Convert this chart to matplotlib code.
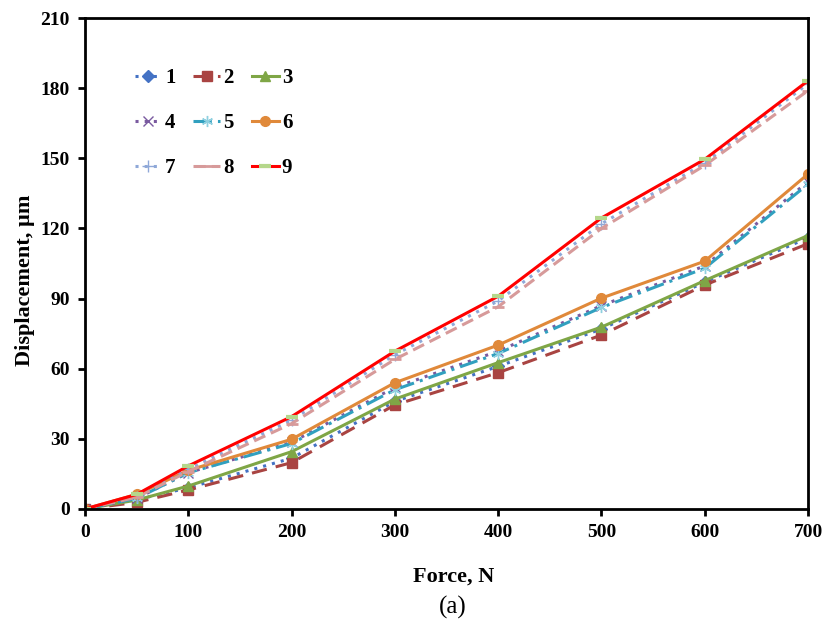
import matplotlib.pyplot as plt

plt.rcParams["font.family"] = ["Liberation Serif", "DejaVu Serif"]

force = [0, 50, 100, 200, 300, 400, 500, 600, 700]

# displacement (um) per series
disp_1 = [0, 4.0, 9.0, 21.7, 46, 61, 77, 97, 116]
disp_2 = [0, 2.8, 8.1, 19.8, 44.5, 58.3, 74.4, 95.8, 113.5]
disp_3 = [0, 3.8, 9.8, 24.5, 47, 62.6, 77.8, 97.7, 117]
disp_4 = [0, 4.5, 15.5, 28.5, 52, 67.5, 87, 104, 140]
disp_5 = [0, 4.5, 15.5, 28, 51, 66.5, 86.2, 103, 139]
disp_6 = [0, 6.2, 16.5, 29.8, 54, 70.1, 90.2, 106, 143.3]
disp_7 = [0, 5.2, 17, 38, 66, 89, 122, 148, 182]
disp_8 = [0, 5.0, 16, 36.5, 64, 86.5, 120, 147, 179]
disp_9 = [0, 6.2, 18.4, 39.5, 67.5, 91, 124.5, 149.6, 183.2]

labels = ["1", "2", "3", "4", "5", "6", "7", "8", "9"]

asterisk = (6, 2, 0)
styles = [
    dict(color="#4472C4", linestyle=(0, (1, 2)), marker="D", markersize=6),
    dict(color="#A94442", linestyle=(0, (5, 3)), marker="s", markersize=7),
    dict(color="#7FA646", linestyle="-", marker="^", markersize=7),
    dict(color="#7A5AA0", linestyle=(0, (1, 2)), marker="x", markersize=7, markeredgewidth=1),
    dict(color="#31A0BF", linestyle=(0, (6, 2, 1, 2)), marker=asterisk, markersize=8,
         markeredgewidth=1, markeredgecolor="#8fd0e0"),
    dict(color="#E0893A", linestyle="-", marker="o", markersize=7),
    dict(color="#8FA8D8", linestyle=(0, (1, 2)), marker="+", markersize=8, markeredgewidth=1),
    dict(color="#D79A9A", linestyle=(0, (4, 2)), marker="_", markersize=8, markeredgewidth=2),
    dict(color="#FF0000", linestyle="-", marker="_", markersize=9, markeredgewidth=3,
         markeredgecolor="#B5D78B"),
]

series = [disp_1, disp_2, disp_3, disp_4, disp_5, disp_6, disp_7, disp_8, disp_9]

fig = plt.figure(figsize=(8.33, 6.26), dpi=100)
ax = fig.add_axes([0.102, 0.187, 0.868, 0.784])

for values, label, st in zip(series, labels, styles):
    ax.plot(force, values, linewidth=2.2, label=label, **st)

ax.set_xlim(0, 700)
ax.set_ylim(0, 210)
ax.set_xticks(range(0, 701, 100))
ax.set_yticks(range(0, 211, 30))

for sp in ax.spines.values():
    sp.set_linewidth(2)
ax.tick_params(direction="out", length=5, width=2, labelsize=14, pad=6)
for t in ax.get_xticklabels() + ax.get_yticklabels():
    t.set_fontweight("bold")

ax.set_xlabel("Force, N", fontsize=16, fontweight="bold", labelpad=18)
ax.xaxis.label.set_x(0.51)
ax.set_ylabel("Displacement, µm", fontsize=16, fontweight="bold", labelpad=4)
ax.yaxis.label.set_y(0.465)
fig.text(0.543, 0.03, "(a)", ha="center", va="center", fontsize=18)

# legend laid out row by row (1 2 3 / 4 5 6 / 7 8 9)
handles, names = ax.get_legend_handles_labels()
order = [0, 3, 6, 1, 4, 7, 2, 5, 8]
ax.legend([handles[i] for i in order], [names[i] for i in order], ncol=3,
          loc="upper left", bbox_to_anchor=(0.043, 0.936), frameon=False,
          prop={"weight": "bold", "size": 15}, handlelength=1.3, handletextpad=0.15,
          columnspacing=0.85, labelspacing=1.2)

fig.savefig("out.png", dpi=100)
